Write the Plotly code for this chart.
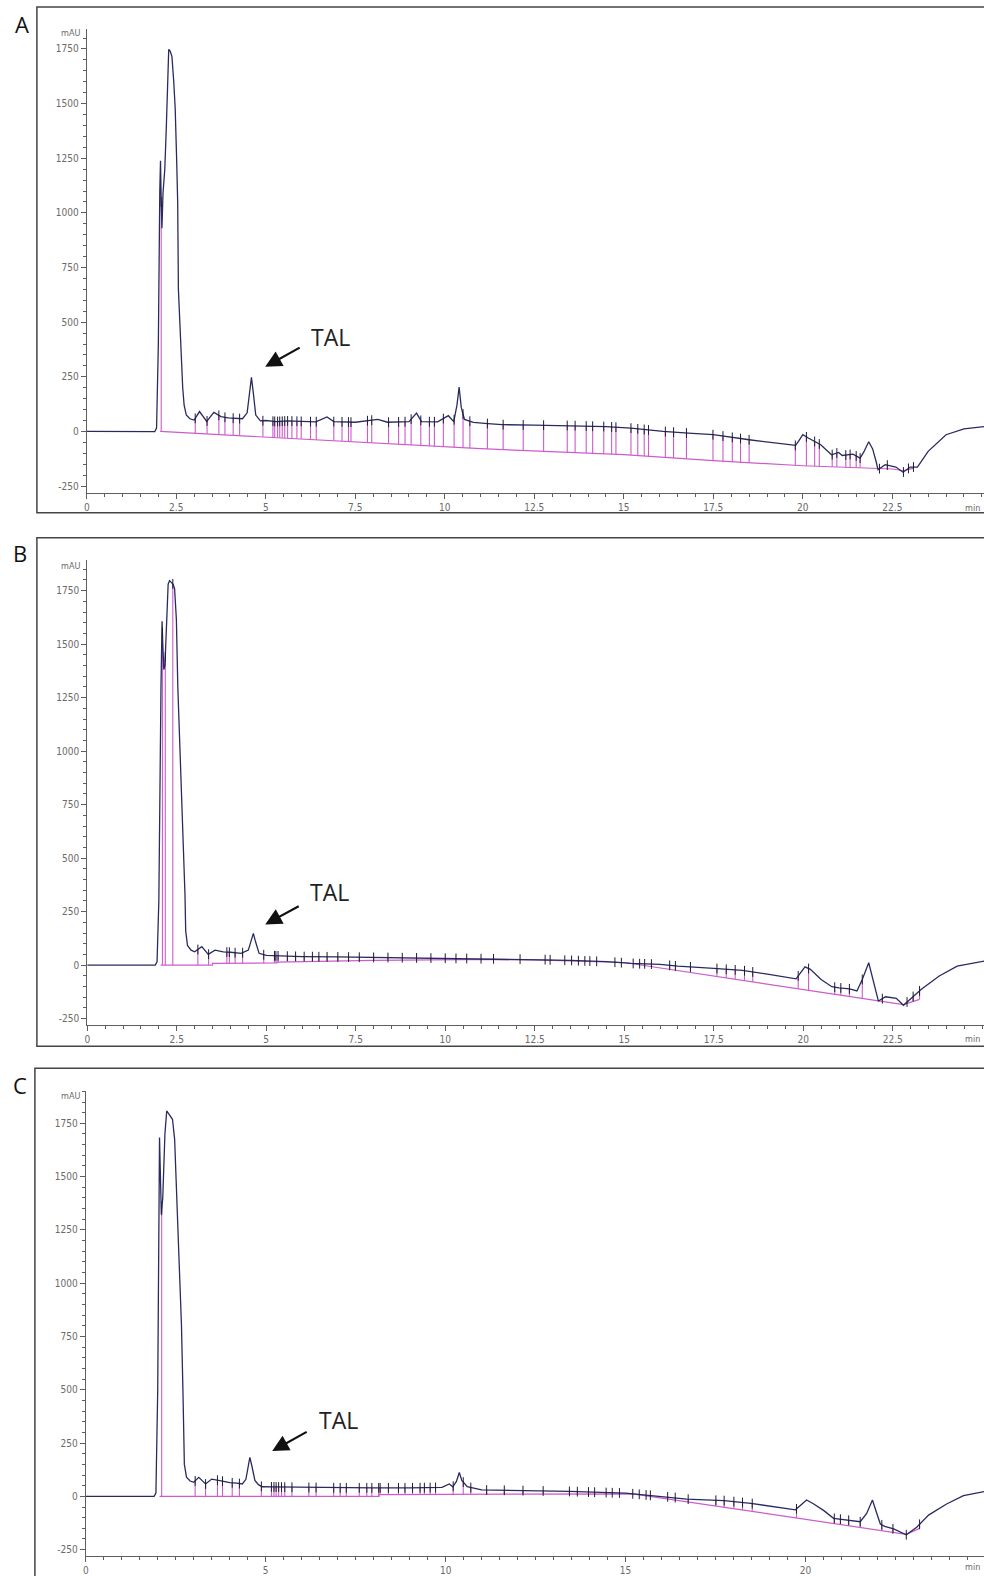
import numpy as np
import plotly.graph_objects as go

W, H = 984, 1576

# ---------------- data ----------------
# Panel A
A_time = [0, 0.9, 1.0, 1.9, 1.95, 2.0, 2.04, 2.06, 2.08, 2.1, 2.13, 2.18, 2.22, 2.26, 2.29, 2.33,
          2.38, 2.43, 2.47, 2.51, 2.54, 2.56, 2.6, 2.64, 2.68, 2.72, 2.78, 2.88, 3.0, 3.15, 3.35,
          3.55, 3.75, 3.95, 4.15, 4.35, 4.48, 4.55, 4.60, 4.65, 4.72, 4.85, 5.0, 5.3, 5.6, 6.0,
          6.4, 6.71, 6.9, 7.5, 8.13, 8.4, 9.0, 9.21, 9.35, 9.8, 10.1, 10.25, 10.34, 10.40, 10.46,
          10.55, 10.8, 11.2, 11.6, 12.5, 13.5, 14.5, 15.2, 16.1, 16.8, 17.5, 18.5, 19.8, 19.9,
          20.0, 20.15, 20.5, 20.8, 21.0, 21.1, 21.4, 21.6, 21.7, 21.84, 21.95, 22.05, 22.1, 22.3,
          22.6, 22.8, 23.0, 23.2, 23.5, 24.0, 24.5, 25.06]
A_signal = [0, 0, -3, -1, 15, 400, 1100, 1238, 1050, 930, 1090, 1200, 1380, 1650, 1748, 1740,
            1715, 1600, 1480, 1250, 1050, 650, 480, 330, 200, 120, 75, 58, 52, 91, 46,
            87, 68, 62, 60, 58, 85, 190, 247, 180, 75, 48, 50, 45, 48, 46,
            44, 66, 45, 42, 55, 42, 45, 84, 45, 44, 72, 45, 120, 203, 110,
            55, 41, 36, 31, 29, 27, 22, 15, 0, -8, -15, -38, -64, -40,
            -15, -30, -61, -107, -96, -110, -104, -122, -95, -47, -80, -140, -175, -152,
            -163, -187, -163, -163, -91, -15, 12, 22]
A_base_time = [2.05, 5.0, 11.0, 15.0, 17.5, 20.0, 22.5, 22.8, 23.1]
A_base_val = [0, -25, -79, -106, -134, -157, -172, -180, -168]
A_drops = [2.08, 3.03, 3.36, 3.69, 3.86, 4.09, 4.27, 4.92, 5.20, 5.25, 5.33, 5.39, 5.46, 5.53,
           5.61, 5.73, 5.87, 5.99, 6.25, 6.41, 6.90, 7.13, 7.31, 7.38, 7.84, 7.96, 8.43, 8.71,
           8.89, 9.06, 9.33, 9.57, 9.71, 9.96, 10.26, 10.51, 10.70, 11.19, 11.63, 12.19, 12.76,
           13.42, 13.64, 13.95, 14.13, 14.44, 14.66, 14.78, 15.20, 15.39, 15.57, 15.69, 16.16,
           16.39, 16.75, 17.49, 17.77, 18.03, 18.26, 18.50, 19.79, 20.10, 20.33, 20.46, 20.82,
           20.95, 21.20, 21.32, 21.49, 21.60, 22.14, 22.36, 22.81, 22.95, 23.09]

# Panel B
B_time = [0, 1.9, 1.95, 2.0, 2.06, 2.09, 2.11, 2.14, 2.17, 2.22, 2.26, 2.30, 2.34, 2.40, 2.44,
          2.49, 2.53, 2.57, 2.62, 2.67, 2.71, 2.73, 2.75, 2.8, 2.9, 3.0, 3.2, 3.38, 3.57, 3.8,
          4.0, 4.3, 4.5, 4.58, 4.64, 4.7, 4.8, 5.0, 5.5, 6.0, 7.0, 8.0, 9.0, 10.0, 11.0, 12.5,
          13.5, 14.5, 15.2, 16.0, 16.5, 17.5, 18.3, 19.0, 19.8, 20.05, 20.2, 20.5, 20.8, 21.0,
          21.3, 21.5, 21.65, 21.83, 22.0, 22.1, 22.3, 22.6, 22.8, 23.0, 23.3, 23.8, 24.3, 25.06]
B_signal = [0, 0, 15, 300, 1300, 1607, 1500, 1381, 1400, 1600, 1780, 1797, 1790, 1780, 1760,
            1615, 1300, 1100, 900, 620, 480, 330, 160, 92, 70, 62, 86, 50, 70, 62,
            60, 55, 70, 120, 148, 110, 55, 45, 42, 40, 38, 36, 34, 32, 30, 27,
            22, 16, 8, 3, -5, -15, -25, -42, -64, -8, -20, -67, -101, -106,
            -111, -121, -67, 11, -98, -168, -148, -155, -188, -157, -113, -51, -5, 19]
B_base_time = [2.05, 3.5, 3.5, 5.3, 5.3, 8.0, 11.3, 12.5, 15.0, 22.8, 23.25]
B_base_val = [0, 0, 8, 10, 14, 22, 27, 24, 12, -185, -160]
B_drops = [2.10, 2.18, 2.39, 3.09, 3.39, 3.90, 3.97, 4.13, 4.34, 4.93, 5.23, 5.27, 5.33, 5.59,
           5.82, 6.06, 6.29, 6.47, 6.7, 7.0, 7.3, 7.6, 8.0, 8.4, 8.8, 9.2, 9.6, 10.0, 10.3,
           10.6, 11.0, 11.35, 12.09, 12.79, 12.93, 13.34, 13.53, 13.72, 13.90, 14.04, 14.23,
           14.74, 14.92, 15.25, 15.43, 15.57, 15.76, 16.27, 16.43, 16.85, 17.59, 17.85, 18.10,
           18.36, 18.59, 19.86, 20.15, 20.88, 21.05, 21.29, 21.65, 22.21, 22.90, 23.07, 23.25]

# Panel C
C_time = [0, 1.9, 1.95, 2.0, 2.05, 2.08, 2.1, 2.14, 2.2, 2.25, 2.3, 2.36, 2.41, 2.47, 2.51, 2.55,
          2.6, 2.66, 2.7, 2.72, 2.74, 2.8, 2.9, 3.0, 3.14, 3.33, 3.5, 3.8, 4.0, 4.2, 4.35, 4.45,
          4.52, 4.56, 4.62, 4.7, 4.8, 4.9, 5.2, 6.0, 7.0, 8.0, 9.0, 9.9, 10.1, 10.2, 10.3, 10.38,
          10.45, 10.6, 11.0, 12.1, 13.44, 15.0, 15.6, 16.35, 16.7, 17.74, 18.48, 19.72, 20.03,
          20.23, 20.51, 20.78, 21.01, 21.52, 21.7, 21.86, 22.0, 22.08, 22.2, 22.45, 22.8, 23.09,
          23.42, 23.92, 24.39, 24.96]
C_signal = [0, 0, 15, 500, 1683, 1500, 1323, 1400, 1700, 1808, 1795, 1785, 1769, 1675, 1500, 1362,
            1150, 800, 500, 300, 150, 90, 72, 66, 89, 58, 81, 71, 64, 62, 58, 80,
            150, 183, 140, 75, 55, 45, 44, 42, 40, 40, 40, 42, 58, 45, 70, 112,
            75, 45, 30, 27, 23, 15, 6, -5, -13, -20, -33, -63, -17,
            -36, -67, -103, -108, -119, -80, -17, -90, -130, -141, -153, -180, -145,
            -88, -36, 3, 22]
C_base_time = [2.05, 8.15, 8.15, 15.2, 22.8, 23.17]
C_base_val = [0, 0, 8, 12, -178, -150]
C_drops = [2.11, 3.04, 3.33, 3.66, 3.80, 4.07, 4.27, 4.88, 5.16, 5.23, 5.29, 5.36, 5.44, 5.53,
           5.73, 6.20, 6.40, 6.89, 7.07, 7.24, 7.60, 7.81, 7.95, 8.14, 8.18, 8.41, 8.69, 8.87,
           9.08, 9.29, 9.41, 9.57, 9.72, 10.21, 10.49, 10.70, 11.14, 11.63, 12.15, 12.71, 13.44,
           13.66, 13.97, 14.14, 14.46, 14.63, 14.83, 15.20, 15.38, 15.57, 15.69, 16.17, 16.38,
           16.74, 17.51, 17.74, 18.01, 18.25, 18.52, 19.75, 20.80, 20.97, 21.20, 21.52, 22.12,
           22.43, 22.80, 23.17]

y_ticks = [-250, 0, 250, 500, 750, 1000, 1250, 1500, 1750]
x_ticks_ab = [0, 2.5, 5, 7.5, 10, 12.5, 15, 17.5, 20, 22.5]
x_ticks_c = [0, 5, 10, 15, 20]
panel_labels = ["A", "B", "C"]
peak_label = "TAL"

# ---------------- styling / layout geometry ----------------
SIG = "#2a2a62"
MAG = "#cc5ccc"
AX = "#5f5f5f"
TICKFONT = dict(family="Liberation Sans Narrow, DejaVu Sans Condensed, Arial Narrow, sans-serif",
                size=10, color="#6a6a6a")


def px_x(p):
    return p / W


def px_y(p):
    return 1 - p / H


panels = [
    dict(t=A_time, s=A_signal, bt=A_base_time, bv=A_base_val, d=A_drops,
         xdom=(84, 984), xr=(0, 25.06), ydom=(29, 493), yr=(-280.3, 1841.3), xt=x_ticks_ab,
         box=(34, 7, 1000, 513), lab=(19, 24), mau=33, minlab=508,
         arrow=((263, 367), (299, 347)), tal=(329, 337)),
    dict(t=B_time, s=B_signal, bt=B_base_time, bv=B_base_val, d=B_drops,
         xdom=(84.5, 984), xr=(0, 25.05), ydom=(560, 1026), yr=(-281.6, 1894.9), xt=x_ticks_ab,
         box=(34, 538, 1000, 1047), lab=(17, 553), mau=566, minlab=1040,
         arrow=((263, 925), (298, 906)), tal=(327, 893)),
    dict(t=C_time, s=C_signal, bt=C_base_time, bv=C_base_val, d=C_drops,
         xdom=(83, 984), xr=(0, 24.96), ydom=(1091.7, 1557), yr=(-279.9, 1901.6), xt=x_ticks_c,
         box=(32, 1069, 1000, 1600), lab=(17, 1086), mau=1097, minlab=1568,
         arrow=((270, 1452), (306, 1432)), tal=(337, 1421)),
]

fig = go.Figure()
shapes = []
annotations = []
layout_axes = {}

for i, p in enumerate(panels):
    n = "" if i == 0 else str(i + 1)
    xa, ya = "x" + n, "y" + n
    t = np.array(p["t"], float)
    s = np.array(p["s"], float)
    d = np.array(p["d"], float)
    base_at = np.interp(d, p["bt"], p["bv"])
    sig_at = np.interp(d, t, s)

    dx, dy = [], []
    for td, b0, s0 in zip(d, base_at, sig_at):
        dx += [td, td, None]
        dy += [b0, s0, None]

    fig.add_trace(go.Scatter(x=p["bt"], y=p["bv"], mode="lines", xaxis=xa, yaxis=ya,
                             line=dict(color=MAG, width=1.2), hoverinfo="skip", showlegend=False))
    fig.add_trace(go.Scatter(x=dx, y=dy, mode="lines", xaxis=xa, yaxis=ya,
                             line=dict(color=MAG, width=1.1), hoverinfo="skip", showlegend=False))
    fig.add_trace(go.Scatter(x=t, y=s, mode="lines", xaxis=xa, yaxis=ya,
                             line=dict(color=SIG, width=1.3), showlegend=False))
    fig.add_trace(go.Scatter(x=d, y=sig_at, mode="markers", xaxis=xa, yaxis=ya,
                             marker=dict(symbol="line-ns", size=7,
                                         line=dict(color="#1d1d33", width=1)),
                             hoverinfo="skip", showlegend=False))

    layout_axes["xaxis" + n] = dict(
        domain=[px_x(p["xdom"][0]), px_x(p["xdom"][1])], range=list(p["xr"]),
        anchor=ya, showline=True, linecolor=AX, linewidth=1, mirror=False,
        ticks="outside", ticklen=5, tickcolor=AX, tickwidth=1,
        tickmode="array", tickvals=p["xt"], ticktext=[f"{v:g}" for v in p["xt"]],
        minor=dict(tick0=0, dtick=0.5, ticks="outside", ticklen=3, tickcolor=AX),
        tickfont=TICKFONT, showgrid=False, zeroline=False, fixedrange=True)
    layout_axes["yaxis" + n] = dict(
        domain=[px_y(p["ydom"][1]), px_y(p["ydom"][0])], range=list(p["yr"]),
        anchor=xa, showline=True, linecolor=AX, linewidth=1,
        ticks="outside", ticklen=5, tickcolor=AX, tickwidth=1,
        tickmode="array", tickvals=y_ticks, ticktext=[str(v) for v in y_ticks],
        minor=dict(tick0=0, dtick=50, ticks="outside", ticklen=3, tickcolor=AX),
        tickfont=TICKFONT, showgrid=False, zeroline=False, fixedrange=True)

    bx0, by0, bx1, by1 = p["box"]
    shapes.append(dict(type="rect", xref="paper", yref="paper",
                       x0=px_x(bx0), x1=px_x(bx1), y0=px_y(by1), y1=px_y(by0),
                       line=dict(color="#444444", width=1.5), fillcolor="rgba(0,0,0,0)",
                       layer="below"))

    annotations.append(dict(text=panel_labels[i], xref="paper", yref="paper",
                            x=px_x(p["lab"][0]), y=px_y(p["lab"][1]),
                            xanchor="center", yanchor="middle", showarrow=False,
                            font=dict(family="Open Sans, Lato, sans-serif", size=22, color="#111")))
    annotations.append(dict(text="mAU", xref="paper", yref="paper",
                            x=px_x(79), y=px_y(p["mau"]), xanchor="right", yanchor="middle",
                            showarrow=False, font=dict(TICKFONT, size=9)))
    annotations.append(dict(text="min", xref="paper", yref="paper",
                            x=px_x(982), y=px_y(p["minlab"]), xanchor="right", yanchor="middle",
                            showarrow=False, font=dict(TICKFONT, size=9)))
    (hx, hy), (tx, ty) = p["arrow"]
    annotations.append(dict(text="", xref="paper", yref="paper",
                            x=px_x(hx), y=px_y(hy), ax=tx - hx, ay=ty - hy,
                            axref="pixel", ayref="pixel", showarrow=True,
                            arrowhead=2, arrowsize=1.5, arrowwidth=2.2, arrowcolor="#111",
                            standoff=0, startstandoff=0))
    annotations.append(dict(text=peak_label, xref="paper", yref="paper",
                            x=px_x(p["tal"][0]), y=px_y(p["tal"][1]),
                            xanchor="center", yanchor="middle", showarrow=False,
                            font=dict(family="Open Sans, Lato, sans-serif", size=23, color="#222")))

fig.update_layout(
    width=W, height=H, margin=dict(l=0, r=0, t=0, b=0, pad=0),
    paper_bgcolor="white", plot_bgcolor="white", showlegend=False,
    shapes=shapes, annotations=annotations, **layout_axes)

fig.write_html("out.html")
